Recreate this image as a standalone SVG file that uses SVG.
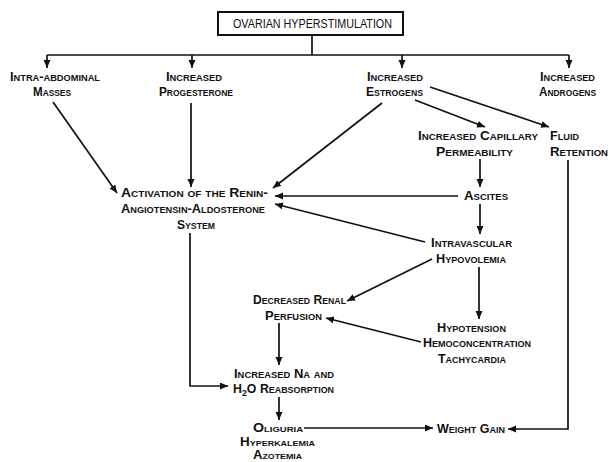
<svg xmlns="http://www.w3.org/2000/svg" width="609" height="462" viewBox="0 0 609 462">
<style>
text{font-family:"Liberation Sans",Arial,sans-serif;font-size:12.5px;font-weight:bold;font-variant:small-caps;fill:#111;}
.t{font-variant:normal;font-weight:normal;font-size:12px;}
.s{font-size:12px;}
.c{fill:none;stroke:#111;stroke-width:1.7;}
.a{marker-end:url(#ah);}
</style>
<defs>
<marker id="ah" markerUnits="userSpaceOnUse" markerWidth="9" markerHeight="8" refX="8" refY="3.5" orient="auto">
<path d="M0,0 L8,3.5 L0,7 z" fill="#111"/>
</marker>
</defs>
<rect width="609" height="462" fill="#fff"/>
<g id="connectors">
<path class="c" d="M312,35 V55"/>
<path class="c" d="M47,55 H569"/>
<path class="c a" d="M47,55 V68"/>
<path class="c a" d="M192,55 V68"/>
<path class="c a" d="M402,55 V68"/>
<path class="c a" d="M569,55 V68"/>
<path class="c a" d="M53,102 L117,193"/>
<path class="c a" d="M191,103 V187"/>
<path class="c a" d="M382,103 L273,188"/>
<path class="c a" d="M415,100 L485,127"/>
<path class="c a" d="M430,87 L549,127"/>
<path class="c a" d="M480,159 V187"/>
<path class="c a" d="M458,196 H275"/>
<path class="c a" d="M480,204 V234"/>
<path class="c a" d="M425,242 L275,204"/>
<path class="c a" d="M432,259 L347,301"/>
<path class="c a" d="M479,267 V319"/>
<path class="c a" d="M421,342 L326,318"/>
<path class="c a" d="M279,323 V365"/>
<path class="c a" d="M190,233 V386 H228"/>
<path class="c a" d="M279,397 V420"/>
<path class="c a" d="M304,428 H433"/>
<path class="c a" d="M568,160 V429 H508"/>
</g>
<g id="ovarian-hyperstimulation">
<rect x="218" y="12" width="185" height="23" fill="#fff" stroke="#111" stroke-width="2"/>
<text class="t" x="233" y="28" textLength="159" lengthAdjust="spacingAndGlyphs">OVARIAN  HYPERSTIMULATION</text>
</g>
<g id="intra-abdominal-masses">
<text x="10" y="81" textLength="90" lengthAdjust="spacingAndGlyphs">Intra-abdominal</text>
<text x="33" y="96" textLength="38" lengthAdjust="spacingAndGlyphs">Masses</text>
</g>
<g id="increased-progesterone">
<text x="166" y="81" textLength="56" lengthAdjust="spacingAndGlyphs">Increased</text>
<text x="159" y="96" textLength="74" lengthAdjust="spacingAndGlyphs">Progesterone</text>
</g>
<g id="increased-estrogens">
<text x="367" y="81" textLength="56" lengthAdjust="spacingAndGlyphs">Increased</text>
<text x="366" y="96" textLength="57" lengthAdjust="spacingAndGlyphs">Estrogens</text>
</g>
<g id="increased-androgens">
<text x="540" y="81" textLength="55" lengthAdjust="spacingAndGlyphs">Increased</text>
<text x="539" y="96" textLength="57" lengthAdjust="spacingAndGlyphs">Androgens</text>
</g>
<g id="increased-capillary-permeability">
<text x="418" y="140" textLength="120" lengthAdjust="spacingAndGlyphs">Increased Capillary</text>
<text x="436" y="156" textLength="77" lengthAdjust="spacingAndGlyphs">Permeability</text>
</g>
<g id="fluid-retention">
<text x="550" y="140" textLength="29" lengthAdjust="spacingAndGlyphs">Fluid</text>
<text x="550" y="156" textLength="58" lengthAdjust="spacingAndGlyphs">Retention</text>
</g>
<g id="raas-activation">
<text x="121" y="197" textLength="147" lengthAdjust="spacingAndGlyphs">Activation of the Renin-</text>
<text x="121" y="213" textLength="144" lengthAdjust="spacingAndGlyphs">Angiotensin-Aldosterone</text>
<text x="177" y="229" textLength="38" lengthAdjust="spacingAndGlyphs">System</text>
</g>
<g id="ascites">
<text x="464" y="200" textLength="44" lengthAdjust="spacingAndGlyphs">Ascites</text>
</g>
<g id="intravascular-hypovolemia">
<text x="431" y="247" textLength="81" lengthAdjust="spacingAndGlyphs">Intravascular</text>
<text x="436" y="263" textLength="70" lengthAdjust="spacingAndGlyphs">Hypovolemia</text>
</g>
<g id="decreased-renal-perfusion">
<text x="253" y="304" textLength="93" lengthAdjust="spacingAndGlyphs">Decreased Renal</text>
<text x="265" y="320" textLength="57" lengthAdjust="spacingAndGlyphs">Perfusion</text>
</g>
<g id="hypotension">
<text x="437" y="332" textLength="69" lengthAdjust="spacingAndGlyphs">Hypotension</text>
<text x="423" y="347" textLength="108" lengthAdjust="spacingAndGlyphs">Hemoconcentration</text>
<text x="438" y="363" textLength="68" lengthAdjust="spacingAndGlyphs">Tachycardia</text>
</g>
<g id="increased-na-reabsorption">
<text x="234" y="378" textLength="100" lengthAdjust="spacingAndGlyphs">Increased Na and</text>
<text x="233" y="393" textLength="101" lengthAdjust="spacingAndGlyphs">H<tspan font-size="9" dy="3">2</tspan><tspan dy="-3">O Reabsorption</tspan></text>
</g>
<g id="oliguria">
<text class="s" x="253" y="432" textLength="50" lengthAdjust="spacingAndGlyphs">Oliguria</text>
<text class="s" x="240" y="445.5" textLength="75" lengthAdjust="spacingAndGlyphs">Hyperkalemia</text>
<text class="s" x="253" y="459" textLength="49" lengthAdjust="spacingAndGlyphs">Azotemia</text>
</g>
<g id="weight-gain">
<text x="437" y="433" textLength="68" lengthAdjust="spacingAndGlyphs">Weight Gain</text>
</g>
</svg>
